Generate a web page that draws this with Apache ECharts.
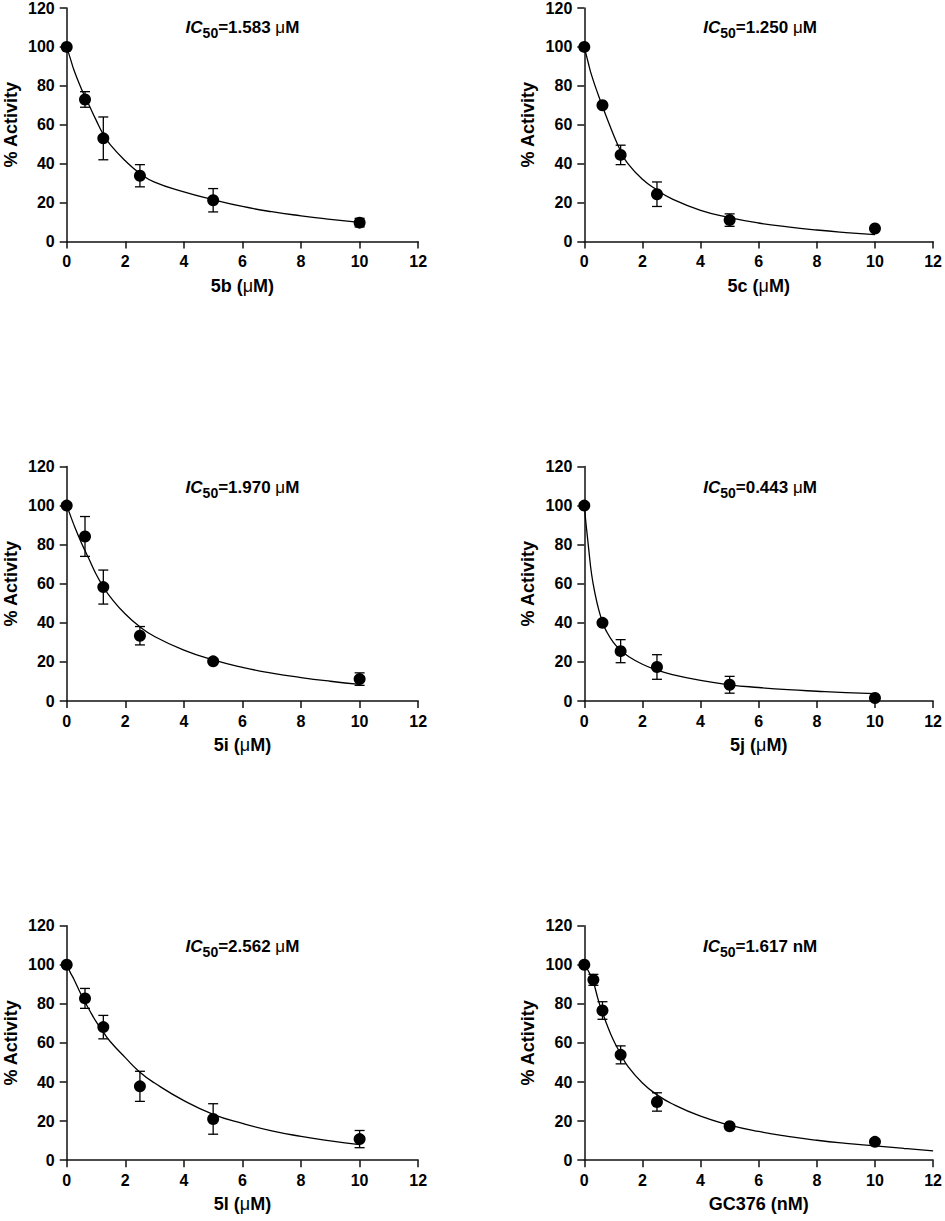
<!DOCTYPE html>
<html>
<head>
<meta charset="utf-8">
<script src="https://cdn.jsdelivr.net/npm/echarts@6/dist/echarts.min.js"></script>
<style>
  html, body { margin: 0; padding: 0; background: #fff; }
  #chart { width: 945px; height: 1221px; }
</style>
</head>
<body>
<div id="chart"></div>
<script>
// ---------------- data ----------------
const doseX = [0, 0.625, 1.25, 2.5, 5, 10];
const doseXGC376 = [0, 0.3125, 0.625, 1.25, 2.5, 5, 10];

const act5b = [100, 73, 53, 33.8, 21.2, 9.7];
const sd5b  = [0, 4, 11, 5.7, 6, 2.2];
const act5c = [100, 70, 44.5, 24.3, 11, 6.7];
const sd5c  = [0, 0, 5, 6.3, 3.2, 0];
const act5i = [100, 84.2, 58.3, 33.4, 20.3, 11.2];
const sd5i  = [0, 10.2, 8.7, 4.7, 0, 3.2];
const act5j = [100, 40, 25.5, 17.4, 8.3, 1.5];
const sd5j  = [0, 0, 5.9, 6.3, 4.3, 0];
const act5l = [100, 82.8, 68.1, 37.8, 21.1, 10.8];
const sd5l  = [0, 5.1, 6, 7.7, 7.8, 4.4];
const actGC376 = [100, 92.3, 76.6, 53.9, 29.8, 17.4, 9.4];
const sdGC376  = [0, 2.8, 4.5, 4.6, 4.7, 0, 0];

// fitted curves
const fitX = [0, 0.125, 0.25, 0.5, 0.625, 0.75, 1, 1.25, 1.5, 2, 2.5, 3, 4, 5, 6, 7, 8, 9, 10];
const fit5b = [100, 94, 88, 78.5, 74.5, 70.5, 62.5, 55, 49.5, 41.5, 35, 30.5, 25.5, 21.5, 18, 15.3, 13.2, 11.4, 9.8];
const fit5c = [100, 92.5, 85.5, 74.5, 69.5, 64.5, 55, 46.5, 40, 32, 26.5, 22, 16, 12.3, 9.5, 7.5, 5.9, 4.6, 3.5];
const fit5i = [100, 95, 90, 81, 77, 73, 65, 58.5, 53, 44.5, 38, 33, 26, 21, 17.2, 14.3, 12, 10.1, 8.5];
const fit5l = [100, 96, 92.5, 84.5, 81, 77.5, 71, 65.5, 60.5, 52.5, 45, 39.5, 30.5, 23.5, 18.8, 15, 12.2, 9.9, 8];
const fitX5j = [0, 0.05, 0.1, 0.15, 0.25, 0.375, 0.5, 0.625, 0.75, 1, 1.25, 1.5, 2, 2.5, 3, 4, 5, 6, 7, 8, 9, 10];
const fit5j = [100, 92, 85, 78, 65, 54.5, 46.5, 40.5, 36, 30, 26, 23, 18.8, 15.8, 13.6, 10.5, 8.3, 6.9, 5.8, 5, 4.3, 3.8];
const fitXGC376 = [0, 0.125, 0.25, 0.3125, 0.5, 0.625, 0.75, 1, 1.25, 1.5, 2, 2.5, 3, 4, 5, 6, 7, 8, 9, 10, 11, 12];
const fitGC376 = [100, 97.2, 93.5, 91.3, 81, 75.8, 70.5, 61.5, 54.5, 48, 39.5, 33.5, 29, 22.5, 18, 14.7, 12.2, 10.2, 8.6, 7.3, 6, 4.8];

const ic50Values = ['1.583', '1.250', '1.970', '0.443', '2.562', '1.617'];
const ic50Units  = ['μM', 'μM', 'μM', 'μM', 'μM', 'nM'];
const compounds  = ['5b', '5c', '5i', '5j', '5l', 'GC376'];
const concUnits  = ['μM', 'μM', 'μM', 'μM', 'μM', 'nM'];
const yTitle = '% Activity';

const panels = [
  { x: doseX, y: act5b, sd: sd5b, fx: fitX, fy: fit5b },
  { x: doseX, y: act5c, sd: sd5c, fx: fitX, fy: fit5c },
  { x: doseX, y: act5i, sd: sd5i, fx: fitX, fy: fit5i },
  { x: doseX, y: act5j, sd: sd5j, fx: fitX5j, fy: fit5j },
  { x: doseX, y: act5l, sd: sd5l, fx: fitX, fy: fit5l },
  { x: doseXGC376, y: actGC376, sd: sdGC376, fx: fitXGC376, fy: fitGC376 }
];

// ---------------- layout ----------------
const FONT = '"Liberation Sans", Arial, Helvetica, sans-serif';
const colLeft = [66.7, 584.3];
const rowTop = [7, 466.5, 925.7];
const plotW = 351.5;
const plotH = 234.5;

const grids = [], xAxes = [], yAxes = [], series = [], graphics = [];

panels.forEach((p, i) => {
  const col = i % 2, row = Math.floor(i / 2);
  const left = colLeft[col], top = rowTop[row];
  grids.push({ left: left, top: top, width: plotW, height: plotH });

  const axisCommon = {
    axisLine: { show: true, onZero: false, lineStyle: { color: '#111', width: 1.5 } },
    axisTick: { show: true, length: 7, lineStyle: { color: '#111', width: 1.5 } },
    splitLine: { show: false },
    axisLabel: { color: '#000', fontFamily: FONT, fontWeight: 'bold', fontSize: 16, margin: 12 }
  };

  const unit = concUnits[i];
  const nameStr = unit.indexOf('μ') === 0
    ? compounds[i] + ' ({m|μ}M)'
    : compounds[i] + ' (' + unit + ')';

  xAxes.push(Object.assign({}, axisCommon, {
    gridIndex: i, type: 'value', min: 0, max: 12, interval: 2,
    name: nameStr, nameLocation: 'middle', nameGap: 35,
    nameTextStyle: {
      color: '#000', fontFamily: FONT, fontWeight: 'bold', fontSize: 18,
      rich: { m: { fontFamily: FONT, fontWeight: 'normal', fontSize: 18, color: '#000' } }
    }
  }));
  yAxes.push(Object.assign({}, axisCommon, {
    gridIndex: i, type: 'value', min: 0, max: 120, interval: 20,
    name: yTitle, nameLocation: 'middle', nameGap: 47, nameRotate: 90,
    nameTextStyle: { color: '#000', fontFamily: FONT, fontWeight: 'bold', fontSize: 18 }
  }));

  // fitted curve
  series.push({
    type: 'line', xAxisIndex: i, yAxisIndex: i,
    data: p.fx.map((v, k) => [v, p.fy[k]]),
    smooth: 0.5, showSymbol: false, symbol: 'none',
    lineStyle: { color: '#000', width: 1.3 }, z: 2, silent: true
  });
  // error bars
  series.push({
    type: 'custom', xAxisIndex: i, yAxisIndex: i,
    data: p.x.map((v, k) => [v, p.y[k], p.sd[k]]),
    encode: { x: 0, y: 1 },
    renderItem: function (params, api) {
      const xv = api.value(0), yv = api.value(1), e = api.value(2);
      if (!e) return null;
      const t = api.coord([xv, yv + e]);
      const b = api.coord([xv, yv - e]);
      const hw = 5;
      const st = { stroke: '#000', lineWidth: 1.3 };
      return {
        type: 'group',
        children: [
          { type: 'line', shape: { x1: t[0], y1: t[1], x2: b[0], y2: b[1] }, style: st },
          { type: 'line', shape: { x1: t[0] - hw, y1: t[1], x2: t[0] + hw, y2: t[1] }, style: st },
          { type: 'line', shape: { x1: b[0] - hw, y1: b[1], x2: b[0] + hw, y2: b[1] }, style: st }
        ]
      };
    },
    z: 3, silent: true
  });
  // points
  series.push({
    type: 'scatter', xAxisIndex: i, yAxisIndex: i,
    data: p.x.map((v, k) => [v, p.y[k]]),
    symbol: 'circle', symbolSize: 12,
    itemStyle: { color: '#000', opacity: 1 }, z: 4, silent: true
  });

  // IC50 annotation
  graphics.push({
    type: 'text',
    x: left + plotW / 2,
    y: top + 12,
    style: {
      text: '{i|IC}{s|50}{b|=' + ic50Values[i] + ' }' +
            (ic50Units[i].indexOf('μ') === 0 ? '{m|μ}{b|M}' : '{b|' + ic50Units[i] + '}'),
      align: 'center',
      verticalAlign: 'top',
      fill: '#000',
      rich: {
        i: { fontFamily: FONT, fontWeight: 'bold', fontStyle: 'italic', fontSize: 17, lineHeight: 18, verticalAlign: 'top', fill: '#000' },
        s: { fontFamily: FONT, fontWeight: 'bold', fontSize: 14, lineHeight: 15, padding: [7, 0, 0, 0], verticalAlign: 'top', fill: '#000' },
        b: { fontFamily: FONT, fontWeight: 'bold', fontSize: 17, lineHeight: 18, verticalAlign: 'top', fill: '#000' },
        m: { fontFamily: FONT, fontWeight: 'normal', fontSize: 17, lineHeight: 18, verticalAlign: 'top', fill: '#000' }
      }
    },
    z: 10
  });
});

const chart = echarts.init(document.getElementById('chart'), null, { renderer: 'svg' });
chart.setOption({
  backgroundColor: '#fff',
  animation: false,
  grid: grids,
  xAxis: xAxes,
  yAxis: yAxes,
  series: series,
  graphic: graphics
});
</script>
</body>
</html>
